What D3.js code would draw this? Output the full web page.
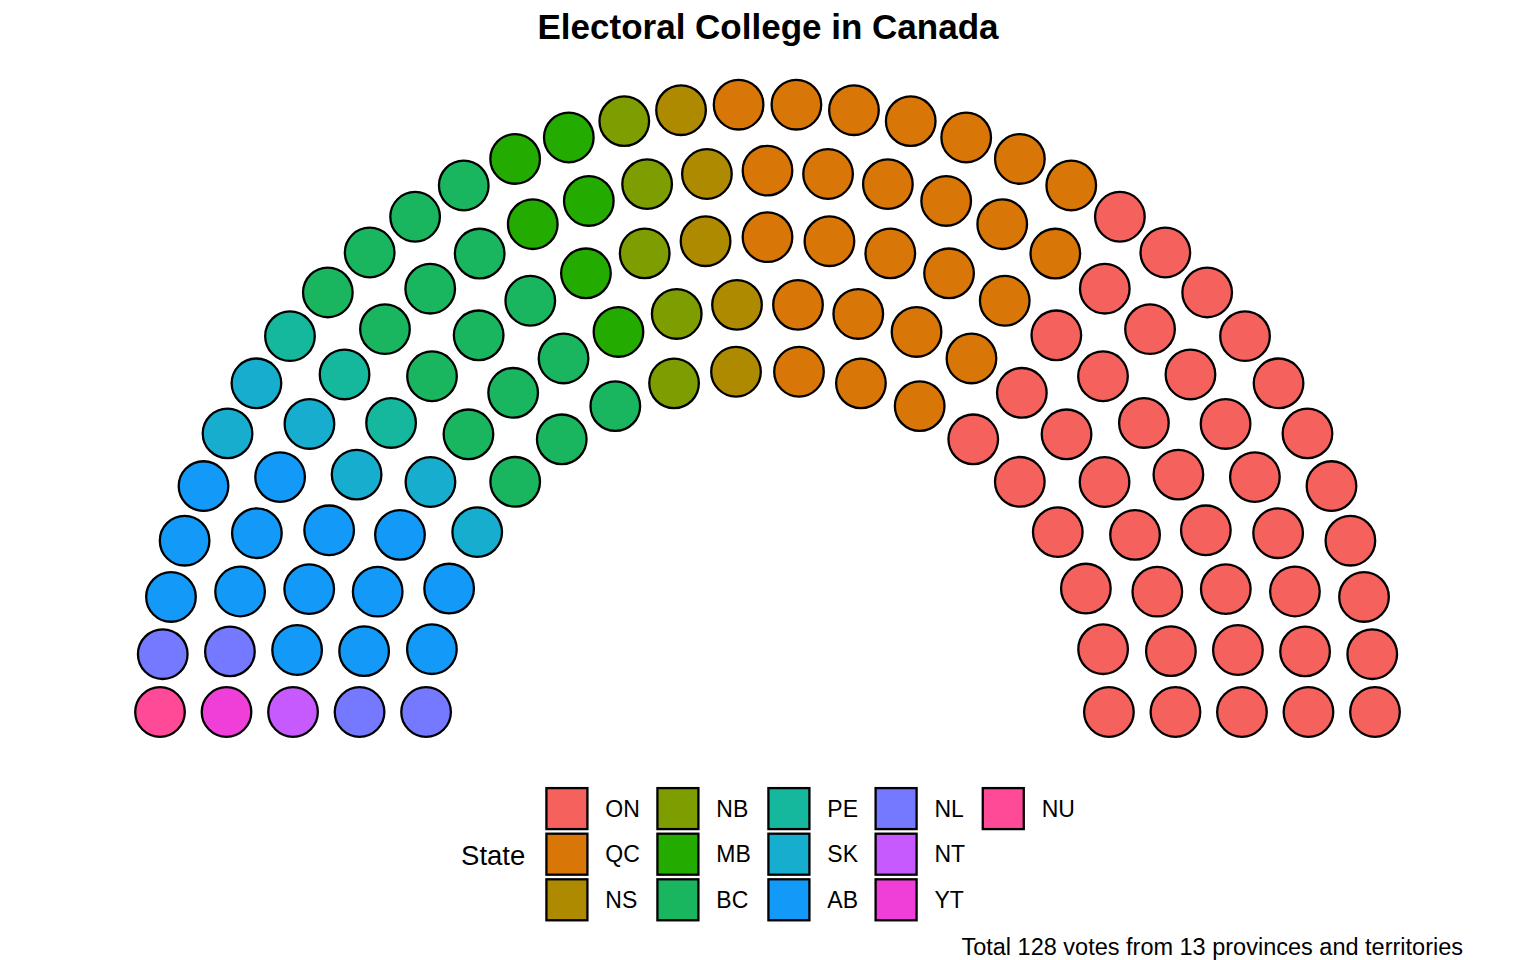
<!DOCTYPE html>
<html>
<head>
<meta charset="utf-8">
<script src="https://cdn.jsdelivr.net/npm/d3@7"></script>
<style>
  body { margin: 0; background: #fff; }
  text { font-family: "Liberation Sans", Arial, Helvetica, sans-serif; fill: #000; }
</style>
</head>
<body>
<svg id="chart" width="1536" height="960"></svg>
<script>
// seats per province / territory, in legend order
var provinces = ["ON", "QC", "NS", "NB", "MB", "BC", "PE", "SK", "AB", "NL", "NT", "YT", "NU"];
var votes     = [41, 25, 5, 5, 6, 16, 3, 6, 14, 4, 1, 1, 1];
var colours   = ["#F5625D", "#D87608", "#AE8A00", "#7E9D00", "#24AB00", "#19B55F", "#15B89C",
                 "#17ADCE", "#1399F8", "#7579FF", "#C65AFF", "#F03FD8", "#FF4A98"];
// seats in each arc, inner to outer
var rowSeats  = [18, 22, 25, 29, 34];

var width = 1536, height = 960;
var svg = d3.select("#chart");

var x = d3.scaleLinear().domain([-1, 1]).range([160, 1375]);
var y = d3.scaleLinear().domain([0, 1]).range([712, 104]);
var colour = d3.scaleOrdinal().domain(provinces).range(colours);

// semicircle layout, like ggparliament
var innerR = 0.562;
var radii = rowSeats.map(function(d, i) { return innerR + (1 - innerR) * i / (rowSeats.length - 1); });

var seats = [];
rowSeats.forEach(function(n, row) {
  d3.range(n).forEach(function(i) {
    var theta = i / (n - 1) * Math.PI;
    seats.push({theta: theta, r: radii[row]});
  });
});
seats.sort(function(a, b) {
  if (Math.abs(a.theta - b.theta) > 1e-9) return a.theta - b.theta;
  return a.r - b.r;
});

var k = 0;
provinces.forEach(function(p, i) {
  for (var j = 0; j < votes[i]; j++) { seats[k].party = p; k++; }
});

svg.append("g").selectAll("circle")
  .data(seats)
  .enter()
  .append("circle")
  .attr("cx", function(d) { return x(d.r * Math.cos(d.theta)); })
  .attr("cy", function(d) { return y(d.r * Math.sin(d.theta)); })
  .attr("r", 24.8)
  .attr("fill", function(d) { return colour(d.party); })
  .attr("stroke", "#000")
  .attr("stroke-width", 2.3);

// title
svg.append("text")
  .attr("x", 768)
  .attr("y", 39)
  .attr("text-anchor", "middle")
  .style("font-size", "35px")
  .style("font-weight", "bold")
  .text("Electoral College in Canada");

// legend (3 rows, filled by column)
var nrow = 3, box = 41, step = 45.6, legendTop = 787;
var legend = svg.append("g");

var title = legend.append("text")
  .attr("y", legendTop + step * 1.5)
  .attr("dy", "0.35em")
  .style("font-size", "27.5px")
  .text("State");
var titleW = title.node().getComputedTextLength();

var cols = d3.range(Math.ceil(provinces.length / nrow)).map(function(c) {
  return provinces.slice(c * nrow, c * nrow + nrow);
});

var cx = titleW + 20;
cols.forEach(function(col) {
  var maxW = 0;
  col.forEach(function(p, r) {
    var g = legend.append("g");
    g.append("rect")
      .attr("x", cx + 1.1)
      .attr("y", legendTop + r * step + 1.1)
      .attr("width", box)
      .attr("height", box)
      .attr("fill", colour(p))
      .attr("stroke", "#000")
      .attr("stroke-width", 2.3);
    var t = g.append("text")
      .attr("x", cx + 60)
      .attr("y", legendTop + r * step + 1.1 + box / 2)
      .attr("dy", "0.35em")
      .style("font-size", "23px")
      .text(p);
    maxW = Math.max(maxW, t.node().getComputedTextLength());
  });
  cx += 60 + maxW + 16.5;
});
var legendW = cx - 16.5;
legend.attr("transform", "translate(" + (768 - legendW / 2) + ",0)");

// caption
svg.append("text")
  .attr("x", 1463)
  .attr("y", 955)
  .attr("text-anchor", "end")
  .style("font-size", "23.5px")
  .text("Total 128 votes from 13 provinces and territories");
</script>
</body>
</html>
